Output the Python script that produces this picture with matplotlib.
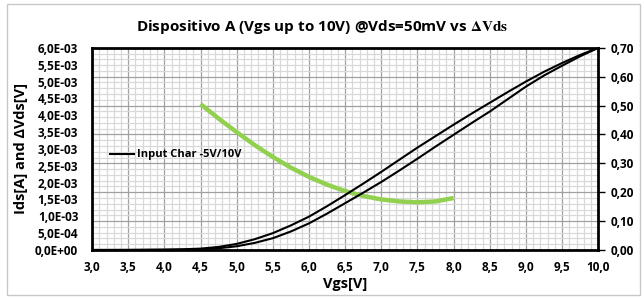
import matplotlib
matplotlib.use("Agg")
import matplotlib.pyplot as plt
from matplotlib.ticker import MultipleLocator, FuncFormatter
from matplotlib.patches import Rectangle

plt.rcParams['font.family'] = ['Open Sans', 'DejaVu Sans']
plt.rcParams['font.weight'] = 'bold'
plt.rcParams['mathtext.fontset'] = 'stix'

# Input characteristic, two sweeps (Ids in A)
vgs = [3.0, 3.5, 4.0, 4.25, 4.5, 4.75, 5.0, 5.25, 5.5, 5.75, 6.0, 6.25, 6.5, 6.75,
       7.0, 7.25, 7.5, 7.75, 8.0, 8.25, 8.5, 8.75, 9.0, 9.25, 9.5, 9.75, 10.0]
ids_up = [0.0, 0.002, 0.01, 0.02, 0.04, 0.09, 0.18, 0.32, 0.50, 0.73, 0.99, 1.30, 1.63, 1.97,
          2.32, 2.68, 3.04, 3.38, 3.72, 4.05, 4.37, 4.69, 5.0, 5.29, 5.55, 5.79, 6.0]
ids_down = [0.0, 0.001, 0.005, 0.01, 0.025, 0.05, 0.11, 0.21, 0.35, 0.55, 0.79, 1.08, 1.39, 1.70,
            2.02, 2.36, 2.71, 3.07, 3.42, 3.77, 4.11, 4.48, 4.85, 5.18, 5.47, 5.75, 6.0]
ids_up = [v * 1e-3 for v in ids_up]
ids_down = [v * 1e-3 for v in ids_down]

# Delta Vds (V)
vgs_d = [4.5, 4.75, 5.0, 5.25, 5.5, 5.75, 6.0, 6.25, 6.5, 6.75, 7.0, 7.25, 7.5, 7.75, 8.0]
dvds = [0.505, 0.455, 0.408, 0.363, 0.322, 0.285, 0.253, 0.226, 0.204, 0.187, 0.175,
        0.168, 0.165, 0.168, 0.180]

fig = plt.figure(figsize=(6.44, 2.99), dpi=100)
fig.patches.append(Rectangle((0.011, 0.012), 0.983, 0.975, transform=fig.transFigure,
                             fill=False, edgecolor='#c8c8c8', linewidth=1))

ax = fig.add_axes([0.143, 0.164, 0.786, 0.676])
ax2 = ax.twinx()

# grid lives on the lower axes (ax2), curves of ax drawn on top
ax.set_zorder(ax2.get_zorder() + 1)
ax.patch.set_visible(False)
ax2.patch.set_visible(True)
ax2.patch.set_facecolor('white')

ax.set_xlim(3.0, 10.0)
ax.set_ylim(0, 6e-3)
ax2.set_ylim(0, 0.70)

ax.xaxis.set_major_locator(MultipleLocator(0.5))
ax.xaxis.set_minor_locator(MultipleLocator(0.1))
ax.yaxis.set_major_locator(MultipleLocator(5e-4))
ax2.yaxis.set_major_locator(MultipleLocator(0.1))
ax2.yaxis.set_minor_locator(MultipleLocator(0.02))

ax2.xaxis.set_visible(True)
ax2.tick_params(axis='x', which='both', bottom=False, top=False, labelbottom=False)
ax2.grid(which='major', color='#a0a0a0', linewidth=0.9)
ax2.grid(which='minor', color='#d9d9d9', linewidth=0.9)

ax.xaxis.set_major_formatter(FuncFormatter(lambda v, p: f"{v:.1f}".replace('.', ',')))
ax.yaxis.set_major_formatter(FuncFormatter(lambda v, p: f"{v:.1E}".replace('.', ',')))
ax2.yaxis.set_major_formatter(FuncFormatter(lambda v, p: f"{v:.2f}".replace('.', ',')))

ax.tick_params(axis='x', which='both', length=0, labelsize=8.5, pad=8)
ax.tick_params(axis='y', which='both', length=0, labelsize=8.5, pad=10)
ax2.tick_params(axis='y', which='major', direction='out', length=5, width=1, labelsize=8.5, pad=4)
ax2.tick_params(axis='y', which='minor', length=0)

for s in ax.spines.values():
    s.set_linewidth(2)
    s.set_color('black')
for s in ax2.spines.values():
    s.set_visible(False)

ax2.plot(vgs_d, dvds, color='#92d050', linewidth=3.2, solid_capstyle='butt')
ax.plot(vgs, ids_up, color='black', linewidth=1.5, label='Input Char -5V/10V')
ax.plot(vgs, ids_down, color='black', linewidth=1.5)

ax.legend(loc='center left', bbox_to_anchor=(0.015, 0.47), frameon=False,
          handlelength=2.2, handletextpad=0.3, prop={'size': 8, 'weight': 'bold'})

ax.set_xlabel('Vgs[V]', fontsize=10.5, fontweight='bold', labelpad=2)
ax.set_ylabel('Ids[A] and ΔVds[V]', fontsize=10.5, fontweight='bold', labelpad=5)
for lbl in ax.get_xticklabels() + ax.get_yticklabels() + ax2.get_yticklabels():
    lbl.set_fontweight('bold')
fig.text(0.5, 0.91, r'Dispositivo A (Vgs up to 10V) @Vds=50mV vs $\Delta\mathrm{Vds}$',
         ha='center', va='center', fontsize=11, fontweight='bold')

fig.savefig('out.png', dpi=100)
